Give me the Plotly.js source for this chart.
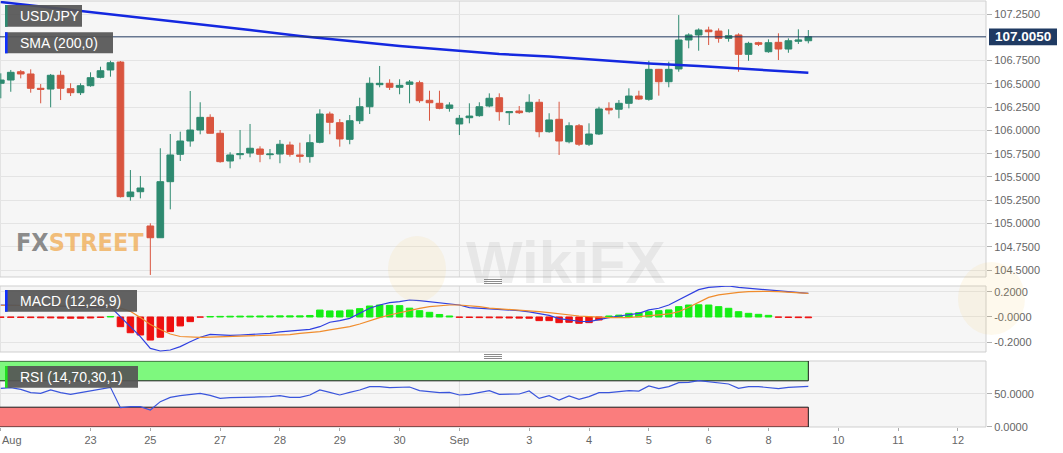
<!DOCTYPE html>
<html><head><meta charset="utf-8">
<script src="https://cdn.plot.ly/plotly-3.0.1.min.js"></script>
<style>html,body{margin:0;padding:0;background:#fff;}#chart{width:1063px;height:453px;}</style>
</head><body><div id="chart"></div>
<script>
// ---- data (4-hour USD/JPY candles) ----
const opens = [106.506,106.541,106.630,106.606,106.452,106.444,106.592,106.448,106.405,106.480,
106.570,106.649,106.734,105.288,105.341,104.973,104.847,105.449,105.743,105.886,
106.004,106.140,105.969,105.671,105.739,105.757,105.800,105.739,105.746,105.843,
105.736,105.718,105.872,106.176,106.083,105.904,106.104,106.254,106.491,106.506,
106.463,106.495,106.512,106.323,106.291,106.237,106.069,106.136,106.158,106.262,
106.351,106.190,106.208,106.201,106.302,105.986,106.119,105.878,106.050,105.851,
105.961,106.237,106.227,106.291,106.369,106.334,106.656,106.523,106.660,106.971,
107.025,107.078,107.067,106.989,107.025,106.817,106.942,106.845,106.946,106.874,
106.957,106.963];
const highs = [106.613,106.649,106.649,106.656,106.498,106.606,106.641,106.506,106.506,106.624,
106.684,106.748,106.745,105.574,105.510,105.002,105.808,105.961,105.986,106.423,
106.302,106.173,106.004,105.765,106.004,106.069,105.829,105.800,105.897,105.879,
105.868,105.958,106.227,106.201,106.122,106.165,106.351,106.570,106.692,106.549,
106.549,106.541,106.534,106.426,106.426,106.302,106.165,106.291,106.302,106.398,
106.398,106.201,106.262,106.388,106.337,106.184,106.308,106.087,106.069,106.076,
106.254,106.302,106.326,106.452,106.426,106.748,106.660,106.738,107.239,107.043,
107.096,107.114,107.096,107.086,107.043,106.952,106.952,106.978,107.043,106.989,
107.086,107.078];
const lows = [106.345,106.415,106.559,106.405,106.291,106.248,106.326,106.369,106.380,106.469,
106.559,106.577,105.279,105.245,105.270,104.447,104.845,105.152,105.671,105.825,
105.958,105.967,105.653,105.593,105.690,105.711,105.658,105.690,105.647,105.718,
105.653,105.653,105.861,105.958,105.825,105.851,106.069,106.176,106.463,106.434,
106.388,106.291,106.297,106.104,106.227,106.201,105.950,106.076,106.147,106.248,
106.104,106.058,106.176,106.190,105.926,105.975,105.736,105.861,105.832,105.832,
105.950,106.173,106.130,106.237,106.326,106.319,106.373,106.463,106.630,106.882,
106.856,106.917,106.942,106.953,106.630,106.748,106.906,106.834,106.756,106.834,
106.928,106.935];
const closes = [106.541,106.624,106.606,106.452,106.441,106.592,106.452,106.405,106.480,106.566,
106.641,106.727,105.288,105.338,105.381,104.847,105.449,105.736,105.886,106.004,
106.140,105.969,105.664,105.736,105.750,105.808,105.743,105.746,105.851,105.743,
105.722,105.868,106.176,106.087,105.908,106.104,106.254,106.506,106.506,106.463,
106.484,106.520,106.319,106.297,106.237,106.273,106.130,106.154,106.254,106.345,
106.201,106.201,106.190,106.302,105.986,106.112,105.886,106.050,105.851,105.961,
106.230,106.219,106.291,106.369,106.337,106.656,106.523,106.656,106.971,107.025,
107.078,107.060,106.989,107.017,106.817,106.935,106.925,106.942,106.874,106.963,
106.971,107.005];

// SMA(200) read at a subset of candle positions
const smaX = [0,5,10,15,20,25,30,35,40,45,50,55,60,65,70,75,81];
const smaY = [107.379,107.320,107.261,107.202,107.143,107.078,107.014,106.960,106.906,106.863,
106.820,106.793,106.756,106.718,106.691,106.659,106.620];

// MACD (12,26,9)
const macdLine = [0.095,0.094,0.092,0.090,0.088,0.087,0.085,0.082,0.078,0.075,
0.074,0.080,0.003,-0.077,-0.156,-0.249,-0.270,-0.262,-0.235,-0.196,
-0.161,-0.138,-0.143,-0.146,-0.143,-0.138,-0.135,-0.130,-0.119,-0.111,
-0.108,-0.098,-0.077,-0.042,-0.029,-0.011,0.029,0.069,0.095,0.114,
0.122,0.135,0.130,0.122,0.116,0.108,0.095,0.074,0.069,0.069,
0.061,0.056,0.050,0.040,0.024,0.013,-0.013,-0.024,-0.034,-0.037,
-0.019,-0.005,0.008,0.021,0.029,0.056,0.069,0.095,0.135,0.175,
0.217,0.235,0.243,0.246,0.235,0.228,0.220,0.214,0.206,0.201,
0.193,0.188];
const signalLine = [0.093,0.093,0.092,0.091,0.090,0.090,0.089,0.088,0.087,0.086,
0.085,0.082,0.070,0.045,-0.005,-0.060,-0.100,-0.135,-0.155,-0.160,
-0.162,-0.160,-0.158,-0.156,-0.154,-0.152,-0.150,-0.147,-0.144,-0.140,
-0.130,-0.124,-0.116,-0.103,-0.090,-0.077,-0.056,-0.029,-0.005,0.016,
0.034,0.056,0.069,0.082,0.090,0.095,0.095,0.090,0.082,0.071,
0.066,0.061,0.056,0.050,0.042,0.034,0.024,0.013,0.008,0.003,
-0.003,-0.005,-0.005,-0.005,0.003,0.008,0.016,0.024,0.042,0.077,
0.119,0.156,0.175,0.188,0.196,0.201,0.204,0.204,0.201,0.196,
0.190,0.188];
const macdHist = [-0.003,-0.003,-0.004,-0.005,-0.006,-0.007,-0.009,-0.010,-0.010,-0.008,
-0.004,0.004,-0.077,-0.125,-0.143,-0.183,-0.161,-0.116,-0.071,-0.037,
-0.001,0.004,0.005,0.006,0.007,0.007,0.008,0.008,0.009,0.009,
0.009,0.012,0.055,0.048,0.048,0.055,0.066,0.087,0.095,0.092,
0.090,0.070,0.050,0.037,0.020,0.008,-0.003,-0.004,-0.005,-0.006,
-0.007,-0.008,-0.009,-0.010,-0.029,-0.029,-0.045,-0.042,-0.050,-0.045,
-0.024,0.008,0.015,0.029,0.034,0.042,0.050,0.056,0.082,0.095,
0.097,0.095,0.082,0.069,0.042,0.029,0.021,0.013,-0.002,-0.004,
-0.005,-0.006];

// RSI (14,70,30,1)
const rsi = [58.6,59.6,57.1,52.0,51.0,56.1,52.0,49.5,52.0,54.5,
57.1,60.1,29.3,30.8,30.8,25.8,38.4,44.9,47.5,49.5,
51.0,48.0,43.4,44.4,44.4,45.5,45.5,46.0,47.5,44.9,
44.9,48.5,56.1,52.5,48.5,52.5,56.1,61.1,61.1,59.6,
60.1,60.6,55.1,53.5,52.0,52.5,48.5,49.5,52.5,55.1,
49.5,49.5,50.0,54.5,43.4,47.5,40.9,47.0,41.9,46.0,
52.0,52.0,53.5,55.1,54.5,62.1,58.1,61.1,67.2,67.7,
70.2,68.7,67.2,65.2,58.6,61.1,61.1,60.1,58.1,60.1,
61.1,61.6];
const rsiUpperBand = [70,100];
const rsiLowerBand = [0,30];

// axis ticks
const xTickPos = [0,9,15,22,28,34,40,46,53,59,65,71,77,84,90,96];
const xTickLabels = ['Aug','23','25','27','28','29','30','Sep','3','4','5','6','8','10','11','12'];
const priceTicks = [104.5,104.75,105,105.25,105.5,105.75,106,106.25,106.5,106.75,107.25];
const macdTicks = [0.2,0,-0.2];
const macdTickLabels = ['0.2000','-0.0000','-0.2000'];
const rsiTicks = [0,50];
const rsiTickLabels = ['0.0000','50.0000'];
const monthBoundary = 'Sep';

// ---- drawing ----
const N = opens.length;
const idx = opens.map((_, i) => i);
const lastClose = closes[N - 1];
const FONT = 'Liberation Sans, Arial, sans-serif';
const GREEN = '#2e8a70', RED = '#d9553f';
const W = 986, H = 427;
const px = x => x / W, py = y => (H - y) / H;

const traces = [
  {type:'candlestick', x: idx, open: opens, high: highs, low: lows, close: closes,
   xaxis:'x', yaxis:'y', whiskerwidth:0,
   increasing:{line:{color:GREEN,width:1}, fillcolor:GREEN},
   decreasing:{line:{color:RED,width:1}, fillcolor:RED}, hoverinfo:'skip'},
  {type:'scatter', mode:'lines', x: smaX, y: smaY, xaxis:'x', yaxis:'y',
   line:{color:'#1428e0', width:2.5}, hoverinfo:'skip'},
  {type:'bar', x: idx, y: macdHist, xaxis:'x', yaxis:'y2',
   marker:{color: macdHist.map(v => v >= 0 ? '#14ee14' : '#ee1010'),
           line:{color: macdHist.map(v => v >= 0 ? '#14ee14' : '#ee1010'), width:1}},
   hoverinfo:'skip'},
  {type:'scatter', mode:'lines', x: idx, y: macdLine, xaxis:'x', yaxis:'y2',
   line:{color:'#2f3fe0', width:1.2}, hoverinfo:'skip'},
  {type:'scatter', mode:'lines', x: idx, y: signalLine, xaxis:'x', yaxis:'y2',
   line:{color:'#f08c2c', width:1.2}, hoverinfo:'skip'},
  {type:'scatter', mode:'lines', x: idx, y: rsi, xaxis:'x', yaxis:'y3',
   line:{color:'#3a55dc', width:1.2}, hoverinfo:'skip'}
];

const sepX = xTickPos[xTickLabels.indexOf(monthBoundary)];
const shapes = [];
['y','y2','y3'].forEach(ax => {
  shapes.push({type:'line', xref:'x', yref: ax + ' domain', x0: sepX, x1: sepX, y0:0, y1:1,
               line:{color:'#dedede', width:1}, layer:'below'});
});
// RSI zones
shapes.push({type:'rect', xref:'x', yref:'y3', x0:-2, x1:N-1, y0:rsiUpperBand[0], y1:rsiUpperBand[1],
             fillcolor:'#7ef87e', line:{color:'#1a1a1a', width:1}, layer:'below'});
shapes.push({type:'rect', xref:'x', yref:'y3', x0:-2, x1:N-1, y0:rsiLowerBand[0], y1:rsiLowerBand[1],
             fillcolor:'#fa7d7d', line:{color:'#1a1a1a', width:1}, layer:'below'});
// panel frames
['y','y2','y3'].forEach(ax => {
  shapes.push({type:'rect', xref:'paper', yref: ax + ' domain', x0:0, x1:1, y0:0, y1:1,
               line:{color:'#cfcfcf', width:1}, fillcolor:'rgba(0,0,0,0)', layer:'below'});
});
// watermark logos (faint)
shapes.push({type:'circle', xref:'paper', yref:'paper', x0:px(388), x1:px(446), y0:py(302), y1:py(236),
             fillcolor:'rgba(245,200,90,0.11)', line:{width:0}, layer:'above'});
shapes.push({type:'circle', xref:'paper', yref:'paper', x0:px(958), x1:px(1025), y0:py(335), y1:py(262),
             fillcolor:'rgba(245,200,90,0.11)', line:{width:0}, layer:'above'});
// current price line
shapes.push({type:'line', xref:'paper', yref:'y', x0:0, x1:1, y0:lastClose, y1:lastClose,
             line:{color:'#223a60', width:1}, layer:'above'});
// price label box
shapes.push({type:'rect', xref:'paper', yref:'y', x0:px(989), x1:px(1057),
             y0:lastClose - 8.3/93.1, y1:lastClose + 8.3/93.1,
             fillcolor:'#1f3a62', line:{width:0}, layer:'above'});
// indicator label boxes
const boxes = [
  {x0:5, x1:82, y0:5, y1:26.7, strip:'#2e8a70', text:'USD/JPY'},
  {x0:5, x1:113, y0:32.3, y1:53.3, strip:'#1030ff', text:'SMA (200,0)'},
  {x0:5, x1:137, y0:290, y1:311.7, strip:'#1030ff', text:'MACD (12,26,9)'},
  {x0:5, x1:138, y0:366, y1:387.7, strip:'#20e020', text:'RSI (14,70,30,1)'}
];
const annotations = [];
boxes.forEach(b => {
  shapes.push({type:'rect', xref:'paper', yref:'paper', x0:px(b.x0), x1:px(b.x1), y0:py(b.y1), y1:py(b.y0),
               fillcolor:'rgba(85,85,85,0.93)', line:{width:0}, layer:'above'});
  shapes.push({type:'rect', xref:'paper', yref:'paper', x0:px(b.x0), x1:px(b.x0+2.6), y0:py(b.y1), y1:py(b.y0),
               fillcolor:b.strip, line:{width:0}, layer:'above'});
  annotations.push({xref:'paper', yref:'paper', x:px(18), y:py((b.y0+b.y1)/2), xanchor:'left', yanchor:'middle',
                    text:b.text, showarrow:false, font:{family:FONT, size:14, color:'#ffffff'}});
});
// pane separators
[279.5, 281.5, 283.5, 354.5, 356.5, 358.5].forEach(y => {
  shapes.push({type:'line', xref:'paper', yref:'paper', x0:px(484), x1:px(502), y0:py(y), y1:py(y),
               line:{color:'#8c8c8c', width:1}, layer:'above'});
});

annotations.push({xref:'paper', yref:'y', x:px(1023), y:lastClose, xanchor:'center', yanchor:'middle',
  text:'<b>' + lastClose.toFixed(4) + '</b>', showarrow:false, font:{family:FONT, size:13.5, color:'#ffffff'}});
annotations.push({xref:'paper', yref:'paper', x:px(14), y:py(243), xanchor:'left', yanchor:'middle', showarrow:false,
  text:'<b><span style="color:rgba(110,110,110,0.8)">FX</span><span style="color:rgba(240,170,80,0.75)">STREET</span></b>',
  font:{family:'Liberation Sans Narrow, DejaVu Sans Condensed, sans-serif', size:25}});
annotations.push({xref:'paper', yref:'paper', x:px(565), y:py(262), xanchor:'center', yanchor:'middle', showarrow:false,
  text:'<b>WikiFX</b>', font:{family:FONT, size:60, color:'rgba(120,120,120,0.12)'}});
// first x label (left-aligned at the plot edge so it is not cut off)
annotations.push({xref:'x', yref:'paper', x:xTickPos[0], y:py(440), xanchor:'left', yanchor:'middle', xshift:-1,
  showarrow:false, text:xTickLabels[0], font:{family:FONT, size:11, color:'#666'}});

const xText = xTickLabels.map((t, i) => i === 0 ? '' : t);

const layout = {
  width:1063, height:453, showlegend:false,
  paper_bgcolor:'#ffffff', plot_bgcolor:'#f6f6f6',
  margin:{l:0, r:77, t:0, b:26, pad:0},
  boxgap:0.33, boxgroupgap:0, bargap:0.35,
  font:{family:FONT, color:'#666'},
  xaxis:{domain:[0,1], anchor:'y3', range:[-0.08, 98.82], rangeslider:{visible:false},
         tickvals:xTickPos, ticktext:xText, ticks:'outside', ticklen:3, tickcolor:'#aaaaaa',
         tickfont:{size:11, color:'#666'}, showgrid:false, zeroline:false, showline:false, automargin:false},
  yaxis:{domain:[0.35129,0.99766], anchor:'x', side:'right', range:[104.425,107.390],
         tickvals:priceTicks, tickformat:'.4f', ticks:'outside', ticklen:5, tickcolor:'#b0b0b0',
         tickfont:{size:11, color:'#666'}, gridcolor:'#e4e4e4', zeroline:false, automargin:false},
  yaxis2:{domain:[0.17564,0.33021], anchor:'x', side:'right', range:[-0.278,0.246],
         tickvals:macdTicks, ticktext:macdTickLabels, ticks:'outside', ticklen:5, tickcolor:'#b0b0b0',
         tickfont:{size:11, color:'#666'}, gridcolor:'#e4e4e4', zeroline:false, automargin:false},
  yaxis3:{domain:[0,0.15457], anchor:'x', side:'right', range:[0,100],
         tickvals:rsiTicks, ticktext:rsiTickLabels, ticks:'outside', ticklen:5, tickcolor:'#b0b0b0',
         tickfont:{size:11, color:'#666'}, gridcolor:'#e4e4e4', zeroline:false, automargin:false},
  shapes: shapes, annotations: annotations
};

Plotly.newPlot('chart', traces, layout, {displayModeBar:false, staticPlot:true});
</script></body></html>
